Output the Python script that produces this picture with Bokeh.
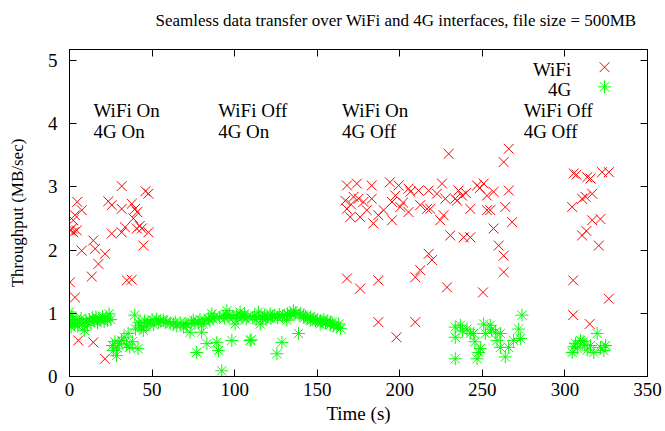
from bokeh.plotting import figure
from bokeh.models import Range1d, LinearAxis, FixedTicker, Title
from bokeh.core.properties import value
from bokeh.embed import file_html
from bokeh.resources import INLINE

# ---------------- data ----------------
wifi_t = [0.3, 2.3, 4.4, 2.3, 4.7, 7.4, 0.3, 3.3, 5.3, 14.4, 21.5, 7.4, 14.4, 15.5, 21.5, 17.5,
          13.5, 23.5, 25.6, 31.6, 31.6, 37.7, 39.7, 47.8, 46.0, 25.6, 31.6, 33.6, 40.7, 42.5,
          43.8, 47.8, 44.7, 34.7, 37.7, 1.5, 3.3, 38.7, 41.0,
          229.6, 266.0, 262.9, 168.0, 174.0, 183.0, 194.0, 199.3, 205.3, 211.4, 217.5, 225.6,
          235.6, 246.8, 250.8, 256.8, 266.0, 167.0, 172.0, 175.0, 178.0, 183.0, 195.3, 197.3,
          206.4, 212.4, 218.5, 222.5, 227.6, 233.6, 237.7, 242.7, 252.8, 254.8, 263.9, 168.0,
          170.0, 176.0, 180.0, 184.0, 187.0, 190.2, 195.3, 200.3, 205.3, 216.5, 224.5, 226.5,
          234.7, 252.8, 268.0, 256.8, 230.6, 238.7, 242.7, 259.9, 262.9, 262.9, 217.5, 219.5,
          212.4, 209.4, 168.0, 176.0, 187.0, 228.6, 250.4, 187.0, 209.4, 198.0, 170.5, 202.0,
          240.0, 248.5,
          305.3, 307.0, 313.5, 315.5, 322.5, 326.6, 316.5, 310.4, 312.5, 304.4, 321.5, 316.5,
          310.4, 313.0, 320.5, 305.0, 326.6, 305.0, 315.0]
wifi_v = [2.31, 2.28, 2.31, 2.47, 2.76, 2.63, 1.49, 1.25, 0.57, 0.54, 0.28, 1.99, 2.15, 2.02, 1.94, 1.78,
          1.58, 2.77, 2.71, 3.01, 2.65, 2.73, 2.65, 2.89, 2.93, 2.26, 2.28, 2.36, 2.34, 2.38,
          2.34, 2.28, 2.07, 1.52, 1.53, 2.34, 2.55, 2.50, 2.60,
          3.52, 3.60, 3.39, 3.02, 3.05, 3.02, 3.07, 3.02, 2.97, 2.94, 2.94, 3.05,
          2.94, 3.02, 3.05, 2.92, 2.94, 2.78, 2.84, 2.81, 2.76, 2.81, 2.76, 2.86,
          2.92, 2.71, 2.65, 2.89, 2.81, 2.81, 2.86, 2.65, 2.86, 2.63, 2.68, 2.65,
          2.52, 2.52, 2.63, 2.42, 2.55, 2.63, 2.47, 2.68, 2.60, 2.65, 2.47, 2.55,
          2.78, 2.63, 2.44, 2.34, 2.23, 2.20, 2.20, 2.07, 1.91, 1.65, 1.94, 1.84,
          1.68, 1.57, 1.55, 1.39, 1.52, 1.41, 1.33, 0.86, 0.86, 0.62, 2.72, 2.75,
          2.90, 2.98,
          3.21, 3.19, 3.15, 3.13, 3.23, 3.23, 2.89, 2.81, 2.84, 2.68, 2.49, 2.47,
          2.23, 2.30, 2.07, 1.52, 1.23, 0.97, 0.83]

g4_t = [0, 0.5, 1, 1.5, 2, 3, 4, 5, 6, 7, 8, 9, 10, 11, 12, 13, 14, 15, 16, 17, 18, 19, 20, 21,
        22, 23, 24, 25, 26, 26.5, 27.5, 28.5, 29, 30, 31.5, 33, 34.5, 35.5, 36.5, 38, 39.5, 40,
        41.5, 42, 42.7, 43.5, 44.7, 45.5, 46.5, 47.5, 48.8, 50, 51, 52.8, 54, 55, 56.8, 58, 59,
        61, 62.9, 64, 65, 67, 69, 70, 71, 73, 74, 75, 76, 77, 78, 79, 80, 81, 82, 83.2, 84, 85,
        86.2, 87, 88, 89.2, 90.2, 91, 92.2, 93, 94, 95.3, 96, 97, 98.3, 99, 100.3, 101, 102,
        103.3, 104, 105, 106, 107, 108, 109.4, 110, 111, 112, 113, 114.4, 115.5, 116, 117, 118,
        119, 120, 121.5, 122, 123, 124, 125.6, 126, 127, 128.6, 129, 130, 131.6, 132, 133, 134,
        135.6, 136, 137, 138.7, 139, 140, 141.7, 142, 143, 144, 145.8, 146, 147, 148, 149, 150,
        151.8, 152, 153, 154, 155, 156, 157.9, 158, 159, 160, 161.9, 163, 164,
        233.6, 236.7, 240.7, 242.7, 233.6, 233.6, 247.8, 246.8, 250.8, 254.8, 251.8, 257.9,
        260.9, 258.9, 260.9, 263.9, 265.9, 268.9, 272.0, 274.0, 244.7, 248.8, 238.0, 273.0,
        255.5, 245.5,
        319.5, 304.4, 306.4, 309.4, 312.0, 315.5, 317.5, 321.5, 324.6, 323.6, 307.5, 311.0,
        313.5, 305.5]
g4_v = [1.02, 0.89, 0.78, 0.95, 0.85, 0.83, 0.90, 0.80, 0.86, 0.92, 0.84, 0.73, 0.88, 0.81, 0.90,
        0.86, 0.93, 0.88, 0.94, 0.85, 0.91, 0.89, 0.95, 0.87, 0.92, 0.89, 0.99, 0.90, 0.49, 0.41,
        0.55, 0.33, 0.45, 0.52, 0.57, 0.62, 0.50, 0.68, 0.46, 0.55, 0.97, 0.75, 0.44, 0.85, 0.81,
        0.78, 0.73, 0.88, 0.80, 0.84, 0.86, 0.90, 0.82, 0.91, 0.86, 0.88, 0.89, 0.85, 0.87,
        0.84, 0.83, 0.86, 0.80, 0.85, 0.78, 0.84, 0.82, 0.70, 0.86, 0.89, 0.84, 0.38, 0.86, 0.90,
        0.70, 0.83, 0.88, 0.52, 0.92, 0.88, 0.99, 0.91, 0.95, 0.54, 0.41, 0.93, 0.09, 0.96, 0.92,
        1.04, 0.95, 0.98, 0.57, 0.93, 0.83, 0.97, 0.92, 1.02, 0.96, 0.94, 0.99, 0.91, 0.95, 0.57,
        0.58, 0.93, 0.96, 0.90, 1.02, 0.83, 0.95, 0.92, 0.97, 0.90, 0.94, 0.99, 0.92, 0.95, 0.97,
        0.36, 0.93, 0.98, 0.54, 0.95, 0.97, 0.89, 0.99, 0.96, 1.00, 1.04, 0.98, 1.01, 0.68, 0.97,
        1.00, 0.97, 0.93, 0.95, 0.92, 0.89, 0.94, 0.90, 0.92, 0.88, 0.90, 0.83, 0.88, 0.86, 0.90,
        0.85, 0.88, 0.86, 0.82, 0.85, 0.80, 0.78, 0.83, 0.76,
        0.78, 0.81, 0.75, 0.68, 0.62, 0.28, 0.38, 0.28, 0.83, 0.81, 0.68, 0.70,
        0.68, 0.57, 0.46, 0.31, 0.46, 0.57, 0.75, 0.97, 0.68, 0.44, 0.72, 0.60,
        0.74, 0.55,
        0.68, 0.38, 0.52, 0.57, 0.50, 0.49, 0.38, 0.46, 0.49, 0.41, 0.45, 0.55,
        0.42, 0.47]

x_ticks = [0, 50, 100, 150, 200, 250, 300, 350]
y_ticks = [0, 1, 2, 3, 4, 5]

ann_line1 = ["WiFi On", "WiFi Off", "WiFi On", "WiFi Off"]
ann_line2 = ["4G On", "4G On", "4G Off", "4G Off"]
ann_t = [14.5, 90, 165, 275]

series_names = ["WiFi", "4G"]
title_text = "Seamless data transfer over WiFi and 4G interfaces, file size = 500MB"

FONT = "Liberation Serif"
RED = "#ff0000"
GREEN = "#00ff00"

# ---------------- figure ----------------
p = figure(width=665, height=431, output_backend="svg", toolbar_location=None,
           x_range=Range1d(0, 350), y_range=Range1d(0, 5.17),
           min_border_left=69, min_border_right=18, min_border_top=49, min_border_bottom=55)
p.background_fill_color = "white"
p.border_fill_color = "white"
p.outline_line_color = "black"
p.outline_line_width = 1
p.xgrid.visible = False
p.ygrid.visible = False

# title: a trailing line break makes the title block two lines tall, which lifts
# the visible line towards the top of the canvas
p.title = Title(text=title_text + "\n", text_font=FONT, text_font_size="17px",
                text_font_style="normal", text_color="black",
                align="left", offset=86, standoff=2)

xa = p.xaxis[0]
ya = p.yaxis[0]
xa.ticker = FixedTicker(ticks=x_ticks)
ya.ticker = FixedTicker(ticks=y_ticks)
for ax in (xa, ya):
    ax.axis_line_color = "black"
    ax.major_tick_line_color = "black"
    ax.major_tick_in = 7
    ax.major_tick_out = 0
    ax.minor_tick_line_color = None
    ax.major_label_text_font = FONT
    ax.major_label_text_font_size = "19px"
    ax.major_label_text_color = "black"
    ax.axis_label_text_font = FONT
    ax.axis_label_text_font_style = "normal"
    ax.axis_label_text_color = "black"
xa.axis_label = "Time (s)"
xa.axis_label_text_font_size = "19px"
xa.major_label_standoff = 6
xa.axis_label_standoff = 4
ya.axis_label = "Throughput (MB/sec)"
ya.axis_label_text_font_size = "17px"
ya.major_label_standoff = 12
ya.axis_label_standoff = 18

# mirrored tick axes (gnuplot style), no labels
top_ax = LinearAxis(ticker=FixedTicker(ticks=x_ticks), major_tick_in=7, major_tick_out=0,
                    minor_tick_line_color=None, major_label_text_font_size="1px",
                    major_label_text_color=None, major_label_standoff=0, axis_line_color="black")
right_ax = LinearAxis(ticker=FixedTicker(ticks=y_ticks), major_tick_in=7, major_tick_out=0,
                      minor_tick_line_color=None, major_label_text_font_size="1px",
                      major_label_text_color=None, major_label_standoff=0, axis_line_color="black")
p.add_layout(top_ax, "above")
p.add_layout(right_ax, "right")

# data
p.scatter(wifi_t, wifi_v, marker="x", size=14, line_color=RED, line_width=1)
p.scatter(g4_t, g4_v, marker="asterisk", size=13, line_color=GREEN, line_width=1)

# annotations
p.text(x=ann_t, y=[4.21] * len(ann_t), text=ann_line1, text_font=value(FONT),
       text_font_size="19px", text_color="black", text_baseline="alphabetic", text_align="left")
p.text(x=ann_t, y=[3.87] * len(ann_t), text=ann_line2, text_font=value(FONT),
       text_font_size="19px", text_color="black", text_baseline="alphabetic", text_align="left")

# legend (gnuplot style: text then sample)
leg_text_x = 303.8
leg_mark_x = 324
leg_text_y = [4.86, 4.54]
leg_mark_y = [4.89, 4.58]
p.text(x=[leg_text_x] * 2, y=leg_text_y, text=series_names, text_font=value(FONT),
       text_font_size="19px", text_color="black", text_baseline="alphabetic", text_align="right")
p.scatter([leg_mark_x], [leg_mark_y[0]], marker="x", size=14, line_color=RED, line_width=1)
p.scatter([leg_mark_x], [leg_mark_y[1]], marker="asterisk", size=13, line_color=GREEN, line_width=1)

open("out.html", "w").write(file_html(p, INLINE))
